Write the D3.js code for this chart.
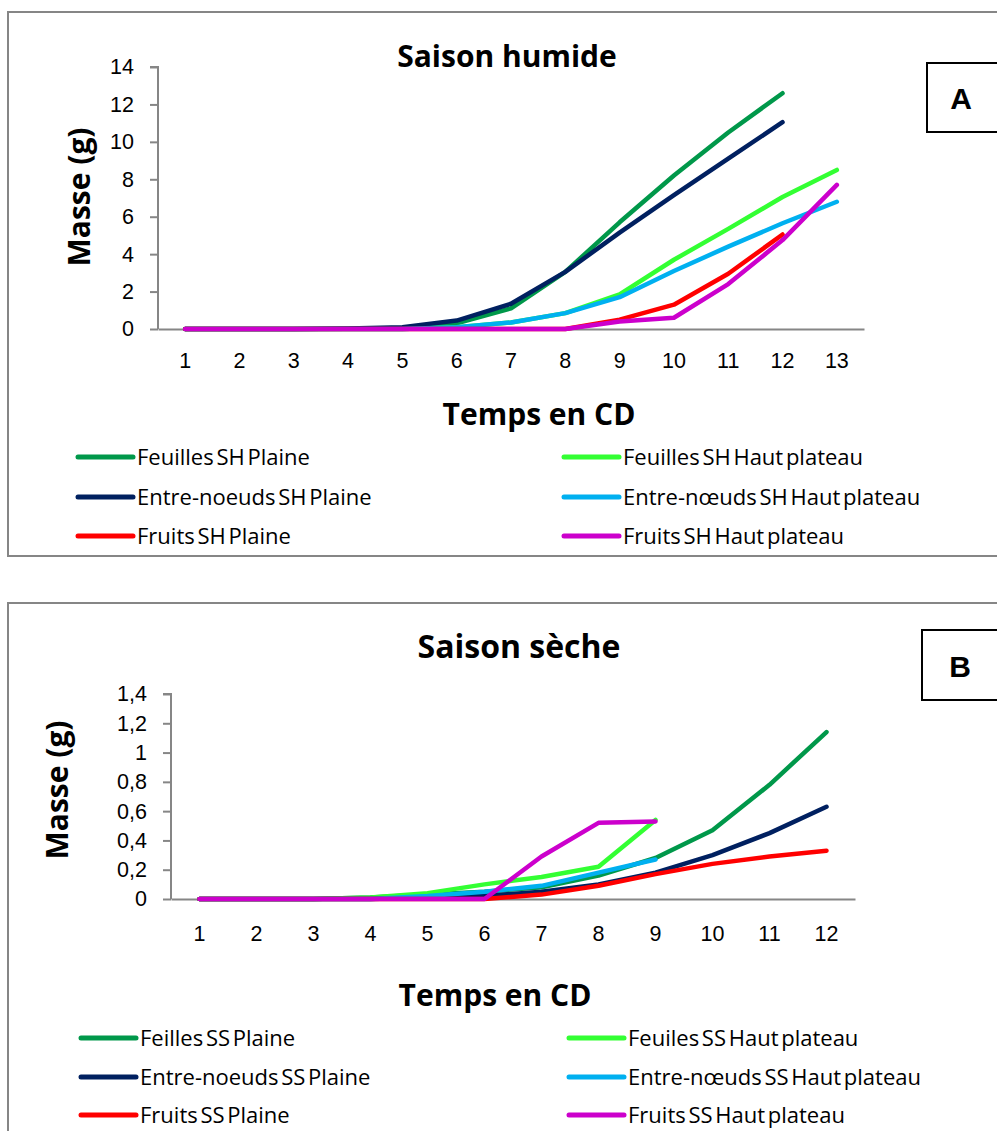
<!DOCTYPE html>
<html lang="fr">
<head>
<meta charset="UTF-8">
<title>Saison humide / Saison sèche</title>
<script src="https://cdn.jsdelivr.net/npm/d3@7/dist/d3.min.js"></script>
<style>
    body { margin: 0; background: #fff; }
    svg { display: block; font-family: "Open Sans", sans-serif; }
    .tick text { font-size: 21.5px; fill: #000; }
    .axis path, .axis line { stroke: #868686; stroke-width: 2; }
</style>
</head>
<body>
<div id="chart"></div>
<script>
// --- data: saison humide (SH), CD 1..13
const cdSH = [1, 2, 3, 4, 5, 6, 7, 8, 9, 10, 11, 12, 13];
const feuillesPlaineSH   = [0, 0, 0, 0.02, 0.05, 0.3, 1.1, 3.05, 5.7, 8.2, 10.5, 12.6, null];
const feuillesHautSH     = [0, 0, 0, 0, 0, 0.1, 0.35, 0.85, 1.85, 3.7, 5.35, 7.05, 8.5];
const entreNoeudsPlaineSH = [0, 0, 0, 0.03, 0.1, 0.45, 1.35, 3.05, 5.15, 7.15, 9.1, 11.05, null];
const entreNoeudsHautSH  = [0, 0, 0, 0, 0, 0.1, 0.35, 0.85, 1.7, 3.1, 4.4, 5.65, 6.8];
const fruitsPlaineSH     = [0, 0, 0, 0, 0, 0, 0, 0, 0.5, 1.3, 2.95, 5.05, null];
const fruitsHautSH       = [0, 0, 0, 0, 0, 0, 0, 0, 0.4, 0.6, 2.4, 4.75, 7.7];
const ticksSH = [0, 2, 4, 6, 8, 10, 12, 14];

// --- data: saison sèche (SS), CD 1..12
const cdSS = [1, 2, 3, 4, 5, 6, 7, 8, 9, 10, 11, 12];
const feuillesPlaineSS   = [0, 0, 0, 0.01, 0.03, 0.05, 0.08, 0.16, 0.28, 0.47, 0.78, 1.14];
const feuillesHautSS     = [0, 0, 0, 0.01, 0.04, 0.1, 0.15, 0.22, 0.54, null, null, null];
const entreNoeudsPlaineSS = [0, 0, 0, 0, 0.01, 0.02, 0.05, 0.1, 0.18, 0.3, 0.45, 0.63];
const entreNoeudsHautSS  = [0, 0, 0, 0, 0.02, 0.05, 0.09, 0.18, 0.27, null, null, null];
const fruitsPlaineSS     = [0, 0, 0, 0, 0, 0, 0.03, 0.09, 0.17, 0.24, 0.29, 0.33];
const fruitsHautSS       = [0, 0, 0, 0, 0, 0, 0.29, 0.52, 0.53, null, null, null];
const ticksSS = [0, 0.2, 0.4, 0.6, 0.8, 1, 1.2, 1.4];

const colors = ["#00984a", "#33ff33", "#002060", "#00b0f0", "#ff0000", "#cc00cc"];

const svg = d3.select("#chart").append("svg")
    .attr("width", 997)
    .attr("height", 1131);

function drawChart(cfg) {
    const g = svg.append("g");

    // outer frame (runs off the right edge like the source)
    g.append("rect")
        .attr("x", cfg.box[0]).attr("y", cfg.box[1])
        .attr("width", cfg.box[2]).attr("height", cfg.box[3])
        .attr("fill", "none").attr("stroke", "#868686").attr("stroke-width", 2);

    const x = d3.scaleBand().domain(cfg.cats).range([cfg.left, cfg.right]);
    const y = d3.scaleLinear().domain([0, d3.max(cfg.ticks)]).range([cfg.bottom, cfg.top]);

    g.append("g")
        .attr("class", "axis")
        .attr("transform", `translate(0,${cfg.bottom})`)
        .call(d3.axisBottom(x).tickSize(0).tickPadding(cfg.xPad))
        .call(a => a.selectAll("line").remove());

    g.append("g")
        .attr("class", "axis")
        .attr("transform", `translate(${cfg.left},0)`)
        .call(d3.axisLeft(y).tickValues(cfg.ticks).tickSize(8).tickPadding(16)
            .tickFormat(d => String(d).replace(".", ",")))
        .call(a => a.select(".domain").attr("d", `M-8,${cfg.top}H0V${cfg.bottom}`));

    const line = d3.line()
        .defined(d => d != null)
        .x((d, i) => x(cfg.cats[i]) + x.bandwidth() / 2)
        .y(d => y(d));

    cfg.series.forEach((s, i) => {
        g.append("path")
            .datum(s.values)
            .attr("fill", "none")
            .attr("stroke", colors[i])
            .attr("stroke-width", 4.5)
            .attr("stroke-linejoin", "round")
            .attr("stroke-linecap", "round")
            .attr("d", line);
    });

    // titles
    g.append("text")
        .attr("x", cfg.titlePos[0]).attr("y", cfg.titlePos[1])
        .attr("text-anchor", "middle")
        .attr("font-size", cfg.titleSize).attr("font-weight", "bold")
        .text(cfg.title);

    g.append("text")
        .attr("x", cfg.xLabelPos[0]).attr("y", cfg.xLabelPos[1])
        .attr("text-anchor", "middle")
        .attr("font-size", 30).attr("font-weight", "bold")
        .text("Temps en CD");

    g.append("text")
        .attr("transform", `translate(${cfg.yLabelPos[0]},${cfg.yLabelPos[1]}) rotate(-90)`)
        .attr("text-anchor", "middle")
        .attr("font-size", 30).attr("font-weight", "bold")
        .text("Masse (g)");

    // letter box
    g.append("rect")
        .attr("x", cfg.letterBox[0]).attr("y", cfg.letterBox[1])
        .attr("width", 100).attr("height", cfg.letterBox[2])
        .attr("fill", "#fff").attr("stroke", "#000").attr("stroke-width", 2);
    g.append("text")
        .attr("x", cfg.letterPos[0]).attr("y", cfg.letterPos[1])
        .attr("text-anchor", "middle")
        .attr("font-family", "Liberation Sans, Arial, sans-serif")
        .attr("font-size", 30).attr("font-weight", "bold")
        .text(cfg.letter);

    // legend, two columns, three rows
    const legend = g.append("g");
    cfg.series.forEach((s, i) => {
        const col = i % 2, row = Math.floor(i / 2);
        const lx = cfg.legendX[col], ly = cfg.legendY[row];
        legend.append("line")
            .attr("x1", lx).attr("x2", lx + 55)
            .attr("y1", ly).attr("y2", ly)
            .attr("stroke", colors[i]).attr("stroke-width", 5)
            .attr("stroke-linecap", "round");
        legend.append("text")
            .attr("x", lx + 59).attr("y", ly)
            .attr("dy", "0.35em")
            .attr("font-size", 22)
            .attr("word-spacing", -3)
            .text(s.name);
    });
}

drawChart({
    box: [8, 12, 1000, 544],
    cats: cdSH, ticks: ticksSH,
    left: 158, right: 864, top: 67, bottom: 329,
    xPad: 24,
    title: "Saison humide", titleSize: 30, titlePos: [507, 67],
    xLabelPos: [539, 425], yLabelPos: [90, 197],
    letter: "A", letterBox: [927, 63, 69], letterPos: [961, 109],
    legendX: [78, 564], legendY: [457, 497, 536],
    series: [
        { name: "Feuilles SH Plaine", values: feuillesPlaineSH },
        { name: "Feuilles SH Haut plateau", values: feuillesHautSH },
        { name: "Entre-noeuds SH Plaine", values: entreNoeudsPlaineSH },
        { name: "Entre-nœuds SH Haut plateau", values: entreNoeudsHautSH },
        { name: "Fruits SH Plaine", values: fruitsPlaineSH },
        { name: "Fruits SH Haut plateau", values: fruitsHautSH }
    ]
});

drawChart({
    box: [8, 603, 1000, 560],
    cats: cdSS, ticks: ticksSS,
    left: 171, right: 855, top: 694, bottom: 899,
    xPad: 27,
    title: "Saison sèche", titleSize: 32, titlePos: [519, 658],
    xLabelPos: [495, 1006], yLabelPos: [68, 790],
    letter: "B", letterBox: [922, 630, 70], letterPos: [960, 677],
    legendX: [81, 569], legendY: [1038, 1077, 1115],
    series: [
        { name: "Feilles SS Plaine", values: feuillesPlaineSS },
        { name: "Feuiles SS Haut plateau", values: feuillesHautSS },
        { name: "Entre-noeuds SS Plaine", values: entreNoeudsPlaineSS },
        { name: "Entre-nœuds SS Haut plateau", values: entreNoeudsHautSS },
        { name: "Fruits SS Plaine", values: fruitsPlaineSS },
        { name: "Fruits SS Haut plateau", values: fruitsHautSS }
    ]
});
</script>
</body>
</html>
